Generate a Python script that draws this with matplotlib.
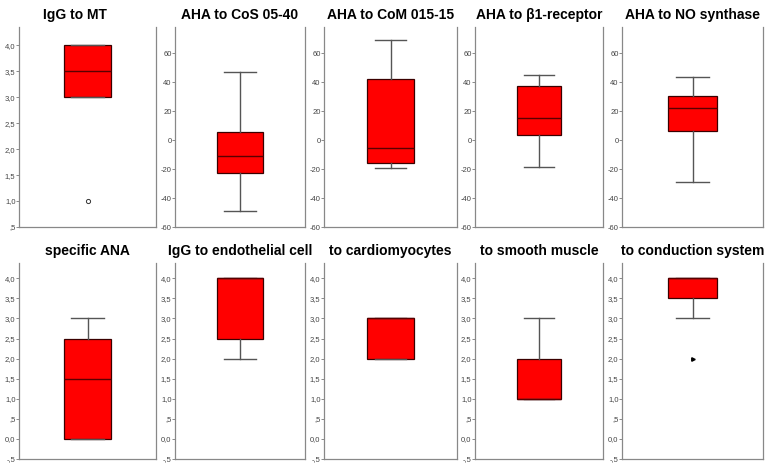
import matplotlib
matplotlib.use("Agg")
import matplotlib.pyplot as plt

plt.rcParams['font.family'] = ['Liberation Sans', 'DejaVu Sans']

# panel titles, row by row
titles = ["IgG to MT", "AHA to CoS 05-40", "AHA to CoM 015-15", "AHA to \u03b21-receptor",
          "AHA to NO synthase", "specific ANA", "IgG to endothelial cell",
          "to cardiomyocytes", "to smooth muscle", "to conduction system"]

# box statistics
whislo = [3.0, -49, -19.6, -18.5, -29, 0.0, 2.0, 2.0, 1.0, 3.0]
q1 = [3.0, -22.4, -16, 3.5, 6.2, 0.0, 2.5, 2.0, 1.0, 3.5]
med = [3.5, -11, -5.3, 15, 21.9, 1.5, 4.0, 3.0, 1.0, 4.0]
q3 = [4.0, 5.8, 42, 37.4, 30.4, 2.5, 4.0, 3.0, 2.0, 4.0]
whishi = [4.0, 47, 69, 44.8, 43.6, 3.0, 4.0, 3.0, 3.0, 4.0]
outliers = [[1.0], [], [], [], [], [], [], [], [], []]
extremes = [[], [], [], [], [], [], [], [], [], [2.0]]

score_ticks = [4.0, 3.5, 3.0, 2.5, 2.0, 1.5, 1.0, 0.5, 0.0, -0.5]
score_labels = ["4,0", "3,5", "3,0", "2,5", "2,0", "1,5", "1,0", ",5", "0,0", "-,5"]
pct_ticks = [60, 40, 20, 0, -20, -40, -60]
pct_labels = ["60", "40", "20", "0", "-20", "-40", "-60"]

W, H = 771, 472
fig = plt.figure(figsize=(W / 100, H / 100), dpi=100)
fig.patch.set_facecolor("white")

cols = [(19, 156), (175, 305), (324, 457), (475, 603), (622, 763)]
rows = [(27, 227), (263, 459)]

for k in range(10):
    r, c = divmod(k, 5)
    x0, x1 = cols[c]
    y0, y1 = rows[r]
    ax = fig.add_axes([x0 / W, 1 - y1 / H, (x1 - x0) / W, (y1 - y0) / H])
    stats = [dict(whislo=whislo[k], q1=q1[k], med=med[k], q3=q3[k],
                  whishi=whishi[k], fliers=outliers[k] + extremes[k])]
    ax.bxp(stats, positions=[1], widths=0.35, patch_artist=True,
           showfliers=False,
           boxprops=dict(facecolor="#ff0000", edgecolor="#3a0000", linewidth=0.9),
           medianprops=dict(color="#5a0000", linewidth=1.0),
           whiskerprops=dict(color="#555555", linewidth=1.0),
           capprops=dict(color="#555555", linewidth=1.0),
           capwidths=0.24)
    if outliers[k]:
        ax.plot([1] * len(outliers[k]), outliers[k], 'o', ms=3, mfc="none",
                mec="#333333", mew=0.7)
    if extremes[k]:
        ax.plot([1] * len(extremes[k]), extremes[k], '>', ms=2.5, color="black")
    ax.set_xlim(0.5, 1.5)
    ax.set_xticks([])
    if 1 <= k <= 4:
        ax.set_ylim(-60, 78)
        ax.set_yticks(pct_ticks)
        ax.set_yticklabels(pct_labels)
    elif k == 0:
        ax.set_ylim(0.5, 4.35)
        ax.set_yticks(score_ticks[:8])
        ax.set_yticklabels(score_labels[:8])
    else:
        ax.set_ylim(-0.5, 4.38)
        ax.set_yticks(score_ticks)
        ax.set_yticklabels(score_labels)
    ax.tick_params(axis='y', labelsize=5.5, labelcolor="#444444", length=2,
                   width=0.6, color="#777777", pad=0.5)
    ax.spines['top'].set_visible(False)
    for s in ['left', 'right', 'bottom']:
        ax.spines[s].set_color("#888888")
        ax.spines[s].set_linewidth(0.9)
    # first title sits a little left of its panel in the original
    ax.set_title(titles[k], fontsize=10, fontweight="bold", pad=6,
                 x=0.41 if k == 0 else 0.5)

fig.savefig("out.png", dpi=100)
